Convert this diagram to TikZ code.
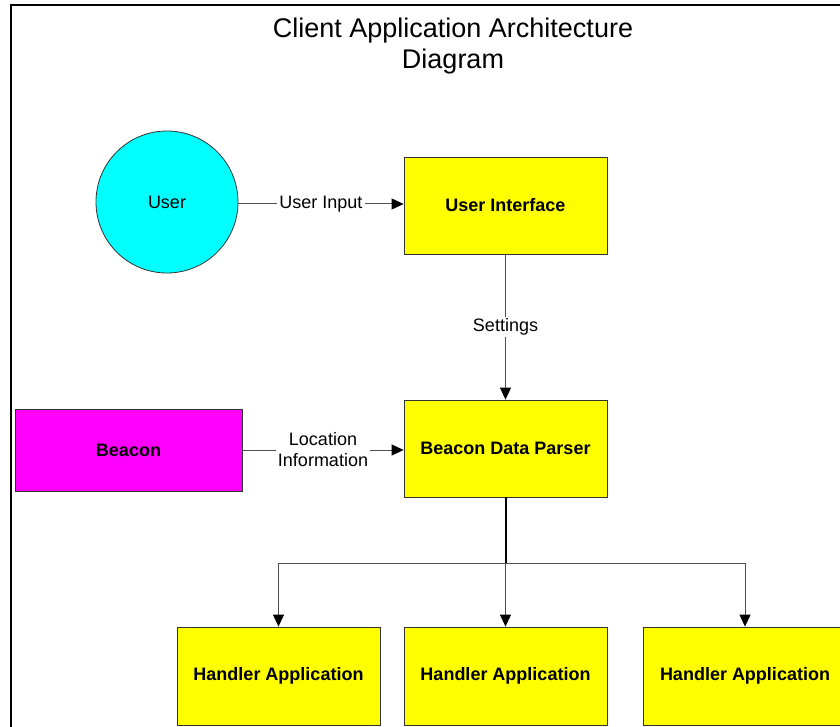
\documentclass[tikz,border=0pt]{standalone}
\usepackage{fontspec}
\setmainfont{Liberation Sans}
\usetikzlibrary{arrows.meta}
\definecolor{boxyellow}{RGB}{255,255,0}
\definecolor{usercyan}{RGB}{0,255,255}
\definecolor{beaconmag}{RGB}{255,0,255}
\definecolor{linegray}{RGB}{80,80,80}
\tikzset{
  box/.style={draw=black!80, line width=0.8pt, minimum width=203pt, minimum height=97pt, inner sep=0pt, font=\fontsize{18}{21}\selectfont\bfseries},
  yellowbox/.style={box, fill=boxyellow},
  conn/.style={draw=linegray, line width=1pt},
  arr/.style={conn, -{Triangle[length=12pt,width=11pt,black]}},
  lbl/.style={fill=white, inner sep=2pt, font=\fontsize{18}{21}\selectfont, align=center}
}
\begin{document}
\begin{tikzpicture}[x=1pt,y=-1pt]
\useasboundingbox (0,0) rectangle (840,727);
\fill[white] (0,0) rectangle (840,727);
% frame
\draw[line width=2.2pt, black] (11,740) -- (11,5) -- (850,5);
% title
\node[font=\fontsize{27}{31}\selectfont, align=center] (title) at (453,46) {Client Application Architecture\\Diagram};
% nodes
\node[circle, draw=black!80, line width=0.8pt, fill=usercyan, minimum size=142pt, inner sep=0pt, font=\fontsize{18}{21}\selectfont] (user) at (167,202) {User};
\node[yellowbox] (ui) at (505.5,205.5) {User Interface};
\node[yellowbox] (bdp) at (505.5,448.5) {Beacon Data Parser};
\node[box, fill=beaconmag, minimum width=227pt, minimum height=82pt] (beacon) at (128.5,450) {Beacon};
\node[yellowbox, minimum height=98pt] (h1) at (278.5,676) {Handler Application};
\node[yellowbox, minimum height=98pt] (h2) at (505.5,676) {Handler Application};
\node[yellowbox, minimum height=98pt] (h3) at (745,676) {Handler Application};
% connectors
\draw[arr] (user.east |- 0,204) -- node[lbl] {User Input} (ui.west |- 0,204);
\draw[arr] (ui.south) -- node[lbl] {Settings} (bdp.north);
\draw[arr] (beacon.east) -- node[lbl, pos=0.5] {Location\\Information} (bdp.west |- beacon.east);
\coordinate (j) at (505.5,563);
\coordinate (jl) at (278.5,563);
\coordinate (jr) at (745,563);
\draw[line width=2pt, black] (bdp.south) -- (j);
\draw[conn] (jl) -- (jr);
\draw[arr] (jl) -- (h1.north);
\draw[arr] (j) -- (h2.north);
\draw[arr] (jr) -- (h3.north);
\end{tikzpicture}
\end{document}
